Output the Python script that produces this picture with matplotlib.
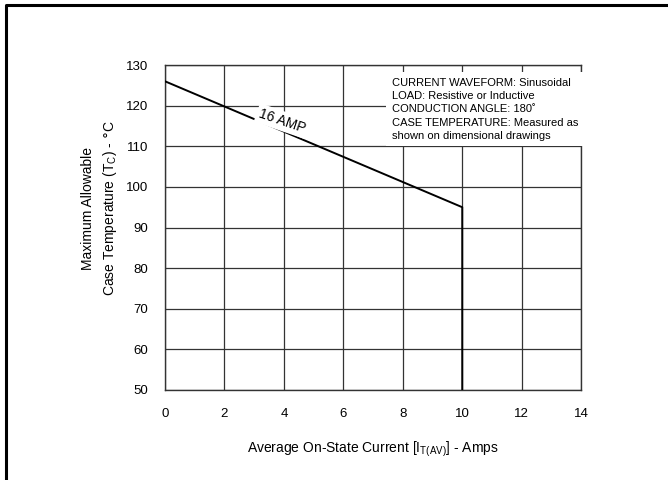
import matplotlib.pyplot as plt
from matplotlib.lines import Line2D

plt.rcParams['font.family'] = ['Liberation Sans', 'DejaVu Sans']

# Derating curve, 16 A device
current = [0, 10, 10]
case_temp = [126, 95, 50]

x_ticks = [0, 2, 4, 6, 8, 10, 12, 14]
y_ticks = [50, 60, 70, 80, 90, 100, 110, 120, 130]

notes = ("CURRENT WAVEFORM: Sinusoidal\n"
         "LOAD: Resistive or Inductive\n"
         "CONDUCTION ANGLE: 180\u02da\n"
         "CASE TEMPERATURE: Measured as\n"
         "shown on dimensional drawings")

fig = plt.figure(figsize=(6.68, 4.80), dpi=100)
ax = fig.add_axes([0.247, 0.1875, 0.623, 0.677])

ax.set_xlim(0, 14)
ax.set_ylim(50, 130)
ax.set_xticks(x_ticks)
ax.set_yticks(y_ticks)
ax.tick_params(length=0, labelsize=9.5)
ax.tick_params(axis='x', pad=13)
ax.tick_params(axis='y', pad=12)
ax.grid(True, color='#333333', linewidth=0.9)
for s in ax.spines.values():
    s.set_color('#333333')
    s.set_linewidth(1.0)

ax.plot(current, case_temp, color='black', linewidth=1.4, zorder=3)

ax.text(3.95, 116.2, '16 AMP', rotation=-19, fontsize=10, ha='center', va='center',
        bbox=dict(facecolor='white', edgecolor='none', pad=2), zorder=4)

ax.text(0.545, 0.96, notes, transform=ax.transAxes, fontsize=8, ha='left', va='top',
        linespacing=1.4,
        bbox=dict(facecolor='white', edgecolor='none', pad=4), zorder=4)

ax.set_xlabel(r'Average On-State Current [I$_\mathregular{T(AV)}$] - Amps', fontsize=10, labelpad=14)
ax.set_ylabel('Maximum Allowable\n' + r'Case Temperature (T$_\mathregular{C}$) - $\degree$C',
              fontsize=10, labelpad=5, linespacing=1.5)
ax.yaxis.label.set_y(0.56)

# partial frame around figure (top and left edges)
fig.add_artist(Line2D([6 / 668, 6 / 668, 1.0], [0, 1 - 5 / 480, 1 - 5 / 480],
                      transform=fig.transFigure, color='black', linewidth=2.2))

fig.savefig('out.png', dpi=100)
